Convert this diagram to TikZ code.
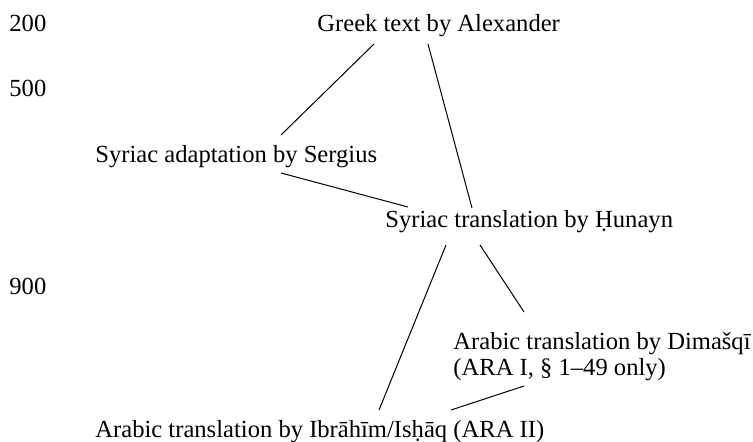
\documentclass[tikz,border=0pt]{standalone}
\usepackage{fontspec}
\setmainfont{Liberation Serif}
\usetikzlibrary{calc}
\tikzset{
	textstyle/.style={inner sep=0pt, anchor=base west, font=\fontsize{12.3}{12.5}\selectfont},
	datestyle/.style={inner sep=0pt, anchor=base west, font=\fontsize{12.3}{12.5}\selectfont},
	linkstyle/.style={line width=0.5pt}
}

\begin{document}
\begin{tikzpicture}[x=0.5pt, y=-0.5pt]
\useasboundingbox (0,0) rectangle (753,442);

\def\datex{9}

\node[datestyle] (d200) at (\datex, 32)  {200};
\node[datestyle] (d500) at (\datex, 97)  {500};
\node[datestyle] (d900) at (\datex, 295) {900};

\node[textstyle] (greek)   at (317, 32)  {Greek text by Alexander};
\node[textstyle] (sergius) at (95, 163)  {Syriac adaptation by Sergius};
\node[textstyle] (hunayn)  at (385, 228) {Syriac translation by Ḥunayn};
% base of a two-line node is its last line
\node[textstyle, align=left] (dimasqi) at (453, 375) {Arabic translation by Dimašqī\\[0.4pt](ARA I, § 1–49 only)};
\node[textstyle] (ibrahim) at (95, 437)  {Arabic translation by Ibrāhīm/Isḥāq (ARA II)};

\draw[linkstyle] ($(greek.base west)+(57,12)$) -- ($(sergius.base west)+(186,-28)$);
\draw[linkstyle] ($(greek.base west)+(111,12)$) -- ($(hunayn.base west)+(87,-20)$);
\draw[linkstyle] ($(sergius.base west)+(186,10)$) -- ($(hunayn.base west)+(23,-21)$);
\draw[linkstyle] ($(hunayn.base west)+(61,17)$) -- ($(ibrahim.base west)+(284,-27)$);
\draw[linkstyle] ($(hunayn.base west)+(95,17)$) -- ($(dimasqi.base west)+(71,-63)$);
\draw[linkstyle] ($(dimasqi.base west)+(71,11)$) -- ($(ibrahim.base west)+(356,-27)$);
\end{tikzpicture}
\end{document}
